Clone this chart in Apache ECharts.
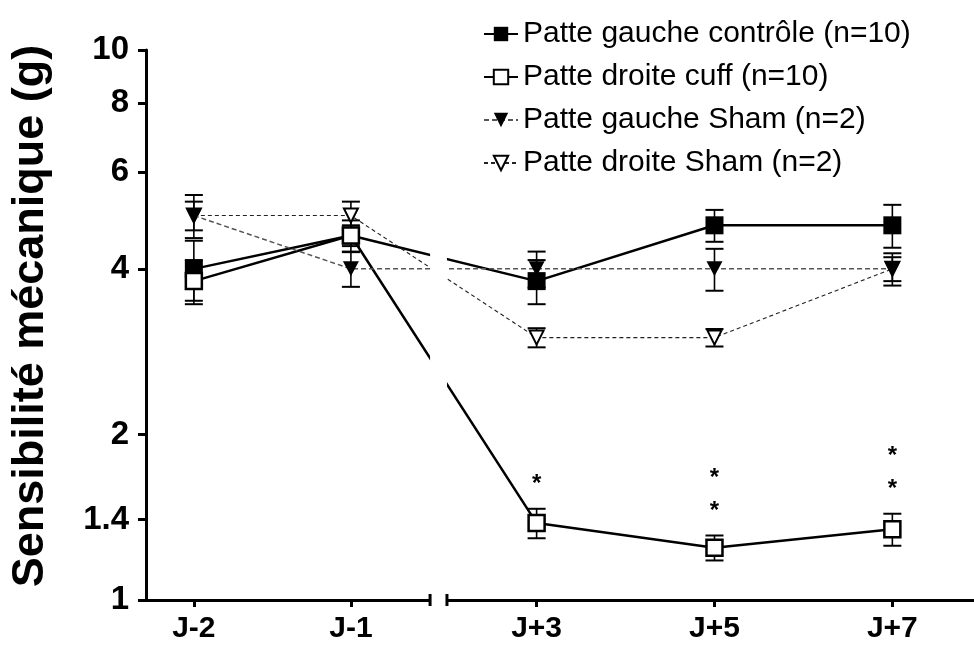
<!DOCTYPE html>
<html>
<head>
<meta charset="utf-8">
<script src="https://cdn.jsdelivr.net/npm/echarts@6/dist/echarts.min.js"></script>
<style>
  html, body { margin: 0; padding: 0; background: #fff; }
  #chart { width: 974px; height: 650px; }
</style>
</head>
<body>
<div id="chart"></div>
<script>
// séances de mesure (axe cassé entre J-1 et J+3)
const days = ['J-2', 'J-1', 'J+3', 'J+5', 'J+7'];
// position de chaque séance sur l'axe x cassé (unités de l'axe)
const dayPos = [0, 0.883, 1.927, 2.927, 3.927];
const yTicks = [1, 1.4, 2, 4, 6, 8, 10];

// moyennes et erreurs standard (g)
const ctrlMean = [4.0, 4.6, 3.8, 4.8, 4.8];
const ctrlSem = [0.5, 0.3, 0.35, 0.32, 0.43];
const cuffMean = [3.8, 4.6, 1.38, 1.245, 1.345];
const cuffSem = [0.35, 0.2, 0.085, 0.065, 0.09];
const shamLMean = [5.0, 4.0, 4.0, 4.0, 4.0];
const shamLSem = [0.3, 0.29, 0.3, 0.35, 0.27];
const shamRMean = [5.0, 5.0, 3.0, 3.0, 4.0];
const shamRSem = [0.45, 0.3, 0.12, 0.11, 0.2];
// étoiles de significativité au-dessus de la patte cuff
const cuffStars = [0, 0, 1, 2, 2];

const FONT = "'Liberation Sans', Arial, sans-serif";
const xMin = -0.269;
const xMax = 4.386;
const axisBreak = [1.328, 1.423];

const chart = echarts.init(document.getElementById('chart'));

function pts(mean) {
  return dayPos.map((x, i) => [x, mean[i]]);
}

function errorSeries(mean, sem, z) {
  return {
    type: 'custom',
    silent: true,
    clip: false,
    z: z,
    data: dayPos.map((x, i) => [x, mean[i] - sem[i], mean[i] + sem[i]]),
    encode: { x: 0, y: [1, 2] },
    renderItem: function (params, api) {
      const x = api.value(0);
      const lo = api.coord([x, api.value(1)]);
      const hi = api.coord([x, api.value(2)]);
      const hw = 9;
      return {
        type: 'group',
        children: [
          { type: 'line', shape: { x1: lo[0], y1: lo[1], x2: hi[0], y2: hi[1] }, style: { stroke: '#000', lineWidth: 1.6 } },
          { type: 'line', shape: { x1: lo[0] - hw, y1: lo[1], x2: lo[0] + hw, y2: lo[1] }, style: { stroke: '#000', lineWidth: 2 } },
          { type: 'line', shape: { x1: hi[0] - hw, y1: hi[1], x2: hi[0] + hw, y2: hi[1] }, style: { stroke: '#000', lineWidth: 2 } }
        ]
      };
    }
  };
}

const names = [
  'Patte gauche contrôle (n=10)',
  'Patte droite cuff (n=10)',
  'Patte gauche Sham (n=2)',
  'Patte droite Sham (n=2)'
];

const option = {
  animation: false,
  textStyle: { fontFamily: FONT },
  grid: { left: 143, right: 0, top: 50, bottom: 50 },
  legend: {
    data: names,
    orient: 'vertical',
    left: 478,
    top: 14,
    itemWidth: 34,
    itemHeight: 18,
    itemGap: 13,
    selectedMode: false,
    textStyle: { fontSize: 30, color: '#000', fontFamily: FONT }
  },
  xAxis: {
    type: 'value',
    min: xMin,
    max: xMax,
    splitLine: { show: false },
    axisLine: { onZero: false, lineStyle: { color: '#000', width: 3 } },
    axisTick: { customValues: dayPos, length: 7, lineStyle: { color: '#000', width: 3 } },
    axisLabel: {
      customValues: dayPos,
      margin: 14,
      fontSize: 30,
      fontWeight: 'bold',
      color: '#000',
      fontFamily: FONT,
      formatter: function (v) {
        let best = 0;
        dayPos.forEach((p, i) => { if (Math.abs(p - v) < Math.abs(dayPos[best] - v)) best = i; });
        return days[best];
      }
    }
  },
  yAxis: {
    type: 'log',
    logBase: 10,
    min: 1,
    max: 10,
    name: 'Sensibilité mécanique (g)',
    nameLocation: 'middle',
    nameGap: 93,
    nameTextStyle: { fontSize: 45, fontWeight: 'bold', color: '#000', fontFamily: FONT, padding: [0, 0, 0, 18] },
    splitLine: { show: false },
    minorTick: { show: false },
    axisLine: { show: true, onZero: false, lineStyle: { color: '#000', width: 3 } },
    axisTick: { show: true, customValues: yTicks, length: 8, lineStyle: { color: '#000', width: 3 } },
    axisLabel: {
      customValues: yTicks,
      margin: 17,
      fontSize: 33,
      fontWeight: 'bold',
      color: '#000',
      fontFamily: FONT,
      formatter: function (v) { return String(+v.toFixed(2)); }
    }
  },
  series: [
    errorSeries(ctrlMean, ctrlSem, 1),
    errorSeries(cuffMean, cuffSem, 1),
    errorSeries(shamLMean, shamLSem, 1),
    errorSeries(shamRMean, shamRSem, 1),
    {
      name: names[0],
      type: 'line',
      z: 2,
      data: pts(ctrlMean),
      symbol: 'rect',
      symbolSize: 18,
      lineStyle: { color: '#000', width: 2.5 },
      itemStyle: { color: '#000' },
      emphasis: { disabled: true }
    },
    {
      name: names[1],
      type: 'line',
      z: 3,
      data: pts(cuffMean),
      symbol: 'rect',
      symbolSize: 16,
      lineStyle: { color: '#000', width: 2.5 },
      itemStyle: { color: '#fff', borderColor: '#000', borderWidth: 2.5 },
      emphasis: { disabled: true }
    },
    {
      name: names[3],
      type: 'line',
      z: 4,
      data: pts(shamRMean),
      symbol: 'triangle',
      symbolRotate: 180,
      symbolSize: [14, 14],
      lineStyle: { color: '#222', width: 1.1, type: [4, 3] },
      itemStyle: { color: '#fff', borderColor: '#000', borderWidth: 2 },
      emphasis: { disabled: true }
    },
    {
      name: names[2],
      type: 'line',
      z: 5,
      data: pts(shamLMean),
      symbol: 'triangle',
      symbolRotate: 180,
      symbolSize: [16, 15],
      lineStyle: { color: '#555', width: 1.5, type: [5, 3] },
      itemStyle: { color: '#000' },
      emphasis: { disabled: true }
    },
    {
      type: 'custom',
      silent: true,
      clip: false,
      z: 6,
      data: dayPos.map((x, i) => [x, cuffMean[i] + cuffSem[i], cuffStars[i]]),
      encode: { x: 0, y: 1 },
      renderItem: function (params, api) {
        const n = api.value(2);
        const p = api.coord([api.value(0), api.value(1)]);
        const children = [];
        for (let k = 0; k < n; k++) {
          children.push({
            type: 'text',
            x: p[0],
            y: p[1] - 29 - 33 * k + 5,
            style: {
              text: '*',
              fontSize: 24,
              fontWeight: 'bold',
              fontFamily: FONT,
              align: 'center',
              verticalAlign: 'middle',
              fill: '#000'
            }
          });
        }
        return { type: 'group', children: children };
      }
    }
  ]
};

chart.setOption(option);

// coupure de l'axe x entre J-1 et J+3
const a = chart.convertToPixel({ gridIndex: 0 }, [axisBreak[0], 1]);
const b = chart.convertToPixel({ gridIndex: 0 }, [axisBreak[1], 1]);
chart.setOption({
  graphic: [
    { type: 'rect', z: 50, shape: { x: a[0], y: 0, width: b[0] - a[0], height: a[1] + 12 }, style: { fill: '#fff' } },
    { type: 'line', z: 51, shape: { x1: a[0], y1: a[1] - 6, x2: a[0], y2: a[1] + 6 }, style: { stroke: '#000', lineWidth: 3 } },
    { type: 'line', z: 51, shape: { x1: b[0], y1: b[1] - 6, x2: b[0], y2: b[1] + 6 }, style: { stroke: '#000', lineWidth: 3 } }
  ]
});
</script>
</body>
</html>
